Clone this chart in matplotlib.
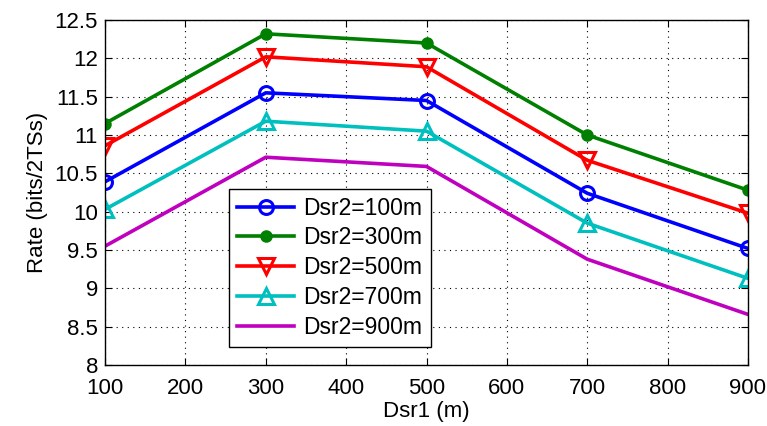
import matplotlib
matplotlib.use("Agg")
import matplotlib.pyplot as plt

plt.rcParams['font.family'] = ['Liberation Sans', 'DejaVu Sans']

dsr1 = [100, 300, 500, 700, 900]
labels = ['Dsr2=100m', 'Dsr2=300m', 'Dsr2=500m', 'Dsr2=700m', 'Dsr2=900m']
r100 = [10.39, 11.55, 11.45, 10.24, 9.52]
r300 = [11.15, 12.32, 12.20, 11.00, 10.28]
r500 = [10.86, 12.02, 11.89, 10.67, 9.98]
r700 = [10.03, 11.18, 11.05, 9.85, 9.13]
r900 = [9.55, 10.71, 10.59, 9.38, 8.66]
xticks = [100, 200, 300, 400, 500, 600, 700, 800, 900]
yticks = [8, 8.5, 9, 9.5, 10, 10.5, 11, 11.5, 12, 12.5]
yticklabels = ['8', '8.5', '9', '9.5', '10', '10.5', '11', '11.5', '12', '12.5']

fig = plt.figure(figsize=(7.67, 4.26), dpi=100)
ax = fig.add_axes([105/767, 1-365/426, 643/767, 345/426])

lw = 2.6
ax.plot(dsr1, r100, color=(0, 0, 1), lw=lw, marker='o', ms=10, mfc='none', mew=2.2, label=labels[0])
ax.plot(dsr1, r300, color=(0, 0.5, 0), lw=lw, marker='o', ms=8, mfc=(0, 0.5, 0), mew=1, label=labels[1])
ax.plot(dsr1, r500, color=(1, 0, 0), lw=lw, marker='v', ms=12, mfc='none', mew=2.2, label=labels[2])
ax.plot(dsr1, r700, color=(0, 0.75, 0.75), lw=lw, marker='^', ms=12, mfc='none', mew=2.2, label=labels[3])
ax.plot(dsr1, r900, color=(0.75, 0, 0.75), lw=lw, label=labels[4])

ax.set_xlim(100, 900)
ax.set_ylim(8, 12.5)
ax.set_xticks(xticks)
ax.set_yticks(yticks)
ax.set_yticklabels(yticklabels)
ax.tick_params(direction='in', top=True, right=True, labelsize=16, length=5)
ax.tick_params(axis='x', pad=9)
ax.tick_params(axis='y', pad=5)
ax.grid(True, linestyle=(0, (1, 4)), color='black', lw=0.8)
for s in ax.spines.values():
    s.set_linewidth(1.0)
ax.set_xlabel('Dsr1 (m)', fontsize=16, labelpad=2)
ax.set_ylabel('Rate (bits/2TSs)', fontsize=16, labelpad=5)

leg = ax.legend(loc='lower left', bbox_to_anchor=(0.193, 0.052), fontsize=16.5,
                fancybox=False, framealpha=1, edgecolor='black', borderaxespad=0,
                handlelength=2.5, labelspacing=0.3, borderpad=0.35, handletextpad=0.4)
leg.get_frame().set_linewidth(1.0)

fig.savefig('out.png', dpi=100)
